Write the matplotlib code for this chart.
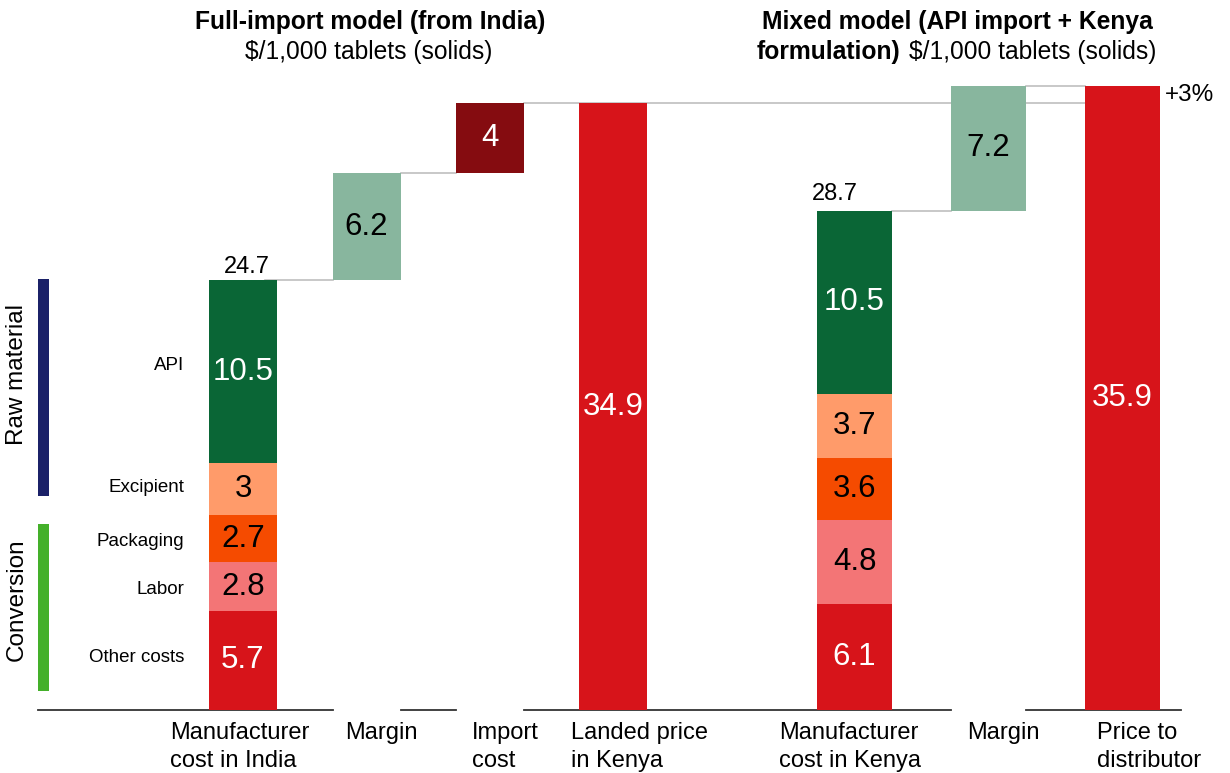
import matplotlib.pyplot as plt
from matplotlib.patches import Rectangle

plt.rcParams['font.family'] = ['Liberation Sans', 'DejaVu Sans']

# =========================
# DATA
# =========================

seg_names = ["Other costs", "Labor", "Packaging", "Excipient", "API"]
india_costs = [5.7, 2.8, 2.7, 3.0, 10.5]
kenya_costs = [6.1, 4.8, 3.6, 3.7, 10.5]
india_margin = 6.2
import_cost = 4.0
landed_price = 34.9
kenya_margin = 7.2
distributor_price = 35.9
uplift_label = "+3%"

categories = ["Manufacturer\ncost in India", "Margin", "Import\ncost", "Landed price\nin Kenya",
              "Manufacturer\ncost in Kenya", "Margin", "Price to\ndistributor"]

# =========================
# STYLE / LAYOUT (pixel space, 1230x773)
# =========================

seg_colors = ["#D7141A", "#F37576", "#F54B00", "#FF9B6A", "#0A6636"]
seg_text = ["white", "black", "black", "black", "white"]
margin_color = "#88B69E"
import_color = "#850C10"
red = "#D7141A"
grey = "#BFBFBF"

xc = [243, 366.5, 489.5, 613, 854.5, 988.5, 1122]
bw = [68, 68, 68, 68, 75, 75, 75]
label_x = [170, 345, 472, 571, 779, 967, 1097]

K = 17.39      # pixels per $ unit
BASE = 710     # baseline pixel row


def py(p):
    return (BASE - p) / K


fig = plt.figure(figsize=(12.3, 7.73), dpi=100)
ax = fig.add_axes([0, 0, 1, 1])
ax.set_xlim(0, 1230)
ax.set_ylim(py(773), py(0))
ax.axis("off")


def bar(i, bottom, h, color, z=3):
    ax.add_patch(Rectangle((xc[i] - bw[i] / 2, bottom), bw[i], h, color=color, lw=0, zorder=z))


def left(i):
    return xc[i] - bw[i] / 2


def right(i):
    return xc[i] + bw[i] / 2


# stacked cost bars
for i, costs in [(0, india_costs), (4, kenya_costs)]:
    b = 0
    for v, c, tc in zip(costs, seg_colors, seg_text):
        bar(i, b, v, c)
        ax.text(xc[i], b + v / 2, f"{v:g}", ha="center", va="center", fontsize=22.5, color=tc, zorder=5)
        b += v

india_total = sum(india_costs)
kenya_total = sum(kenya_costs)

# floating bars
bar(1, india_total, india_margin, margin_color)
ax.text(xc[1], india_total + india_margin / 2, f"{india_margin:g}", ha="center", va="center", fontsize=22.5, zorder=5)
bar(2, india_total + india_margin, import_cost, import_color)
ax.text(xc[2], india_total + india_margin + import_cost / 2, f"{import_cost:g}", ha="center", va="center",
        fontsize=22.5, color="white", zorder=5)
bar(3, 0, landed_price, red)
ax.text(xc[3], landed_price / 2, f"{landed_price:g}", ha="center", va="center", fontsize=22.5, color="white", zorder=5)
bar(5, kenya_total, kenya_margin, margin_color)
ax.text(xc[5], kenya_total + kenya_margin / 2, f"{kenya_margin:g}", ha="center", va="center", fontsize=22.5, zorder=5)
bar(6, 0, distributor_price, red)
ax.text(xc[6], distributor_price / 2, f"{distributor_price:g}", ha="center", va="center", fontsize=22.5,
        color="white", zorder=5)

# totals
ax.text(247, india_total + 0.15, f"{india_total:.1f}", ha="center", va="bottom", fontsize=17)
ax.text(835, kenya_total + 0.35, f"{kenya_total:.1f}", ha="center", va="bottom", fontsize=17)

# connectors
conn = dict(color=grey, lw=1.2, zorder=1)
ax.plot([right(0) - 12, left(1)], [india_total] * 2, **conn)
ax.plot([right(1), left(2)], [india_total + india_margin] * 2, **conn)
ax.plot([right(2), left(6)], [landed_price] * 2, **conn)
ax.plot([right(4), left(5)], [kenya_total] * 2, **conn)
ax.plot([right(5), left(6)], [kenya_total + kenya_margin] * 2, **conn)
ax.text(1165, (landed_price + distributor_price) / 2 - 0.05, uplift_label, ha="left", va="center", fontsize=17.5)

# baseline with gaps under floating bars
base = dict(color="#333333", lw=1.3, zorder=2)
ax.plot([38, left(1)], [0, 0], **base)
ax.plot([right(1), left(2)], [0, 0], **base)
ax.plot([right(2), left(5)], [0, 0], **base)
ax.plot([right(5), 1181], [0, 0], **base)

# category labels
for x, lab in zip(label_x, categories):
    ax.text(x, py(722), lab, ha="left", va="top", fontsize=17, linespacing=1.38)

# segment names on the left
seg_name_y = [657, 590, 542, 487, 366]
for y, name in zip(seg_name_y, seg_names):
    ax.text(184, py(y), name, ha="right", va="center", fontsize=13.5)

# group brackets
ax.add_patch(Rectangle((38, py(496)), 11, py(279) - py(496), color="#1B2168", lw=0))
ax.add_patch(Rectangle((38, py(691)), 11, py(524) - py(691), color="#44B02A", lw=0))
ax.text(17, py(375), "Raw material", rotation=90, ha="center", va="center", fontsize=17.5)
ax.text(17, py(600), "Conversion", rotation=90, ha="center", va="center", fontsize=17.5)

# titles
ax.text(370, py(22), "Full-import model (from India)", ha="center", va="center", fontsize=17.7, fontweight="bold")
ax.text(369, py(52), "$/1,000 tablets (solids)", ha="center", va="center", fontsize=17.7)
ax.text(957, py(22), "Mixed model (API import + Kenya", ha="center", va="center", fontsize=17.7, fontweight="bold")
ax.text(757, py(52), "formulation)", ha="left", va="center", fontsize=17.7, fontweight="bold")
ax.text(1156, py(52), "$/1,000 tablets (solids)", ha="right", va="center", fontsize=17.7)

fig.savefig("out.png", dpi=100)
